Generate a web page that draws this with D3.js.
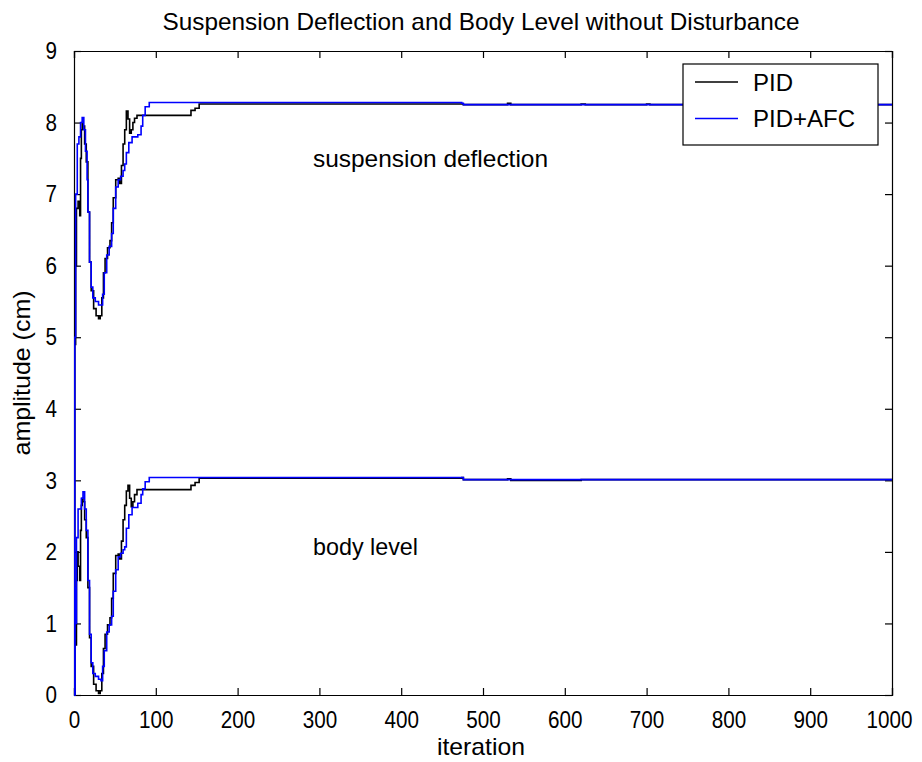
<!DOCTYPE html>
<html>
<head>
<meta charset="utf-8">
<script src="https://cdn.jsdelivr.net/npm/d3@7/dist/d3.min.js"></script>
<style>
  html, body { margin: 0; padding: 0; background: #ffffff; }
  svg { display: block; }
  text { font-family: "Liberation Sans", Arial, sans-serif; fill: #000; }
</style>
</head>
<body>
<svg id="chart" width="922" height="762"></svg>
<script>
// Suspension deflection responses: [iteration, amplitude (cm)]
const suspensionPID = [
  [0,0],[1,4.9],[2,6.0],[3,6.8],[5,6.9],[7,6.7],[8,7.5],[9,7.9],[10,8.0],[11,7.95],[13,7.7],[15,7.45],
  [17,6.75],[19,6.05],[21,5.65],[24,5.4],[27,5.3],[30,5.26],[32,5.3],[34,5.55],[36,5.9],[38,6.1],
  [41,6.25],[44,6.35],[46,6.6],[48,6.95],[51,7.2],[54,7.22],[56,7.15],[58,7.4],[60,7.7],[62,7.9],
  [64,8.16],[66,8.05],[68,7.85],[70,7.9],[72,8.0],[74,8.06],[77,8.1],[140,8.1],[143,8.17],[148,8.2],
  [153,8.26],[474,8.26],[476,8.25],[505,8.25],[530,8.27],[534,8.25],[620,8.26],[625,8.25],[700,8.26],
  [704,8.25],[1000,8.25]
];
const suspensionAFC = [
  [0,0],[1,5.0],[2,7.0],[4,7.7],[6,7.8],[8,8.0],[10,8.07],[12,7.9],[14,7.6],[16,7.2],[17,6.75],
  [19,6.05],[21,5.7],[23,5.55],[26,5.5],[30,5.45],[33,5.45],[35,5.6],[37,5.9],[40,6.15],[43,6.27],
  [46,6.45],[48,6.8],[51,7.1],[54,7.2],[57,7.25],[60,7.33],[62,7.42],[64,7.58],[67,7.72],[71,7.8],
  [78,7.83],[82,7.95],[84,8.1],[87,8.22],[92,8.28],[474,8.27],[476,8.25],[1000,8.25]
];

// Body level responses: [iteration, amplitude (cm)]
const bodyPID = [
  [0,0],[1,1.5],[2,0.7],[3,1.6],[4,2.0],[5,1.8],[7,1.6],[8,2.3],[9,2.65],[10,2.75],[11,2.7],[13,2.45],
  [15,2.2],[17,1.5],[19,0.8],[21,0.4],[24,0.15],[27,0.06],[30,0.02],[32,0.06],[34,0.3],[36,0.65],
  [38,0.85],[41,0.98],[44,1.08],[46,1.35],[48,1.7],[51,1.95],[54,1.97],[56,1.9],[58,2.15],[60,2.45],
  [62,2.65],[64,2.85],[66,2.93],[68,2.75],[70,2.63],[72,2.7],[74,2.8],[77,2.87],[140,2.87],[143,2.93],
  [148,2.97],[153,3.03],[474,3.04],[476,3.01],[530,3.02],[534,3.0],[620,3.01],[1000,3.01]
];
const bodyAFC = [
  [0,0],[1,1.5],[2,1.0],[3,2.2],[5,2.6],[7,2.6],[9,2.75],[11,2.84],[13,2.6],[15,2.3],[17,1.6],
  [19,0.85],[21,0.45],[23,0.3],[26,0.26],[30,0.22],[33,0.2],[35,0.4],[37,0.62],[40,0.88],[43,0.98],
  [46,1.1],[48,1.45],[51,1.75],[54,1.93],[57,1.98],[60,2.03],[62,2.07],[64,2.33],[67,2.52],[71,2.62],
  [78,2.68],[82,2.8],[84,2.88],[87,2.98],[92,3.04],[474,3.04],[476,3.01],[1000,3.01]
];

const xTicks = [0,100,200,300,400,500,600,700,800,900,1000];
const yTicks = [0,1,2,3,4,5,6,7,8,9];
const seriesNames = ["PID", "PID+AFC"];
const seriesColors = ["#000000", "#0000ff"];

const svg = d3.select("#chart");
const margin = { left: 74, right: 30, top: 51, bottom: 67 };
const W = 922, H = 762;
const plotW = W - margin.left - margin.right;
const plotH = H - margin.top - margin.bottom;

const x = d3.scaleLinear().domain([0, 1000]).range([margin.left, margin.left + plotW]);
const y = d3.scaleLinear().domain([0, 9]).range([margin.top + plotH, margin.top]);

// Axes with inward ticks on all four sides
const tickLen = 7;
const digitW = 11.5;
const gx = svg.append("g").attr("transform", `translate(0,${y(0)})`)
  .call(d3.axisBottom(x).tickValues(xTicks).tickSize(-tickLen).tickPadding(tickLen + 9).tickFormat(d3.format("d")));
const gxTop = svg.append("g").attr("transform", `translate(0,${y(9)})`)
  .call(d3.axisTop(x).tickValues(xTicks).tickSize(-tickLen).tickFormat(""));
const gy = svg.append("g").attr("transform", `translate(${x(0)},0)`)
  .call(d3.axisLeft(y).tickValues(yTicks).tickSize(-tickLen).tickPadding(tickLen + 10).tickFormat(d3.format("d")));
const gyRight = svg.append("g").attr("transform", `translate(${x(1000)},0)`)
  .call(d3.axisRight(y).tickValues(yTicks).tickSize(-tickLen).tickFormat(""));

[gx, gxTop, gy, gyRight].forEach(g => {
  g.select(".domain").attr("stroke", "#000").attr("stroke-width", 1.2);
  g.selectAll(".tick line").attr("stroke", "#000").attr("stroke-width", 1.2);
});
[gx, gy].forEach(g => {
  g.selectAll(".tick text")
    .attr("font-size", 24).attr("fill", "#000")
    .style("font-family", '"Liberation Sans", Arial, sans-serif')
    .attr("textLength", d => String(d).length * digitW)
    .attr("lengthAdjust", "spacingAndGlyphs");
});
gx.selectAll(".tick text").attr("dy", "0.71em");
// keep the last x label inside the page edge
gx.selectAll(".tick text").filter(d => d === 1000).attr("text-anchor", "end").attr("x", 20);

// Curves
const line = d3.line().x(d => x(d[0])).y(d => y(d[1])).curve(d3.curveStepAfter);
const curves = [
  { data: suspensionPID, color: seriesColors[0] },
  { data: bodyPID, color: seriesColors[0] },
  { data: suspensionAFC, color: seriesColors[1] },
  { data: bodyAFC, color: seriesColors[1] }
];
svg.append("g").selectAll("path").data(curves).join("path")
  .attr("d", d => line(d.data))
  .attr("fill", "none")
  .attr("stroke", d => d.color)
  .attr("stroke-width", 1.6);

// Title and axis labels
svg.append("text").attr("x", 481).attr("y", 30).attr("text-anchor", "middle")
  .attr("font-size", 24).attr("textLength", 637).attr("lengthAdjust", "spacingAndGlyphs")
  .text("Suspension Deflection and Body Level without Disturbance");
svg.append("text").attr("x", 481).attr("y", 755).attr("text-anchor", "middle")
  .attr("font-size", 24).attr("textLength", 88).attr("lengthAdjust", "spacingAndGlyphs")
  .text("iteration");
svg.append("text").attr("transform", `translate(30,${(y(0) + y(9)) / 2}) rotate(-90)`)
  .attr("text-anchor", "middle").attr("font-size", 24)
  .attr("textLength", 165).attr("lengthAdjust", "spacingAndGlyphs")
  .text("amplitude (cm)");

// Curve annotations
svg.append("text").attr("x", 313).attr("y", 167).attr("font-size", 24)
  .attr("textLength", 235).attr("lengthAdjust", "spacingAndGlyphs").text("suspension deflection");
svg.append("text").attr("x", 313).attr("y", 555).attr("font-size", 24)
  .attr("textLength", 105).attr("lengthAdjust", "spacingAndGlyphs").text("body level");

// Legend
const lg = svg.append("g");
lg.append("rect").attr("x", 683).attr("y", 64).attr("width", 195).attr("height", 81)
  .attr("fill", "#fff").attr("stroke", "#000").attr("stroke-width", 1.2);
seriesNames.forEach((name, i) => {
  const cy = 82 + i * 36.5;
  lg.append("line").attr("x1", 695).attr("x2", 738).attr("y1", cy).attr("y2", cy)
    .attr("stroke", seriesColors[i]).attr("stroke-width", 1.6);
  lg.append("text").attr("x", 753).attr("y", cy + 8.5).attr("font-size", 24)
    .attr("textLength", i === 0 ? 40 : 102).attr("lengthAdjust", "spacingAndGlyphs").text(name);
});
</script>
</body>
</html>
